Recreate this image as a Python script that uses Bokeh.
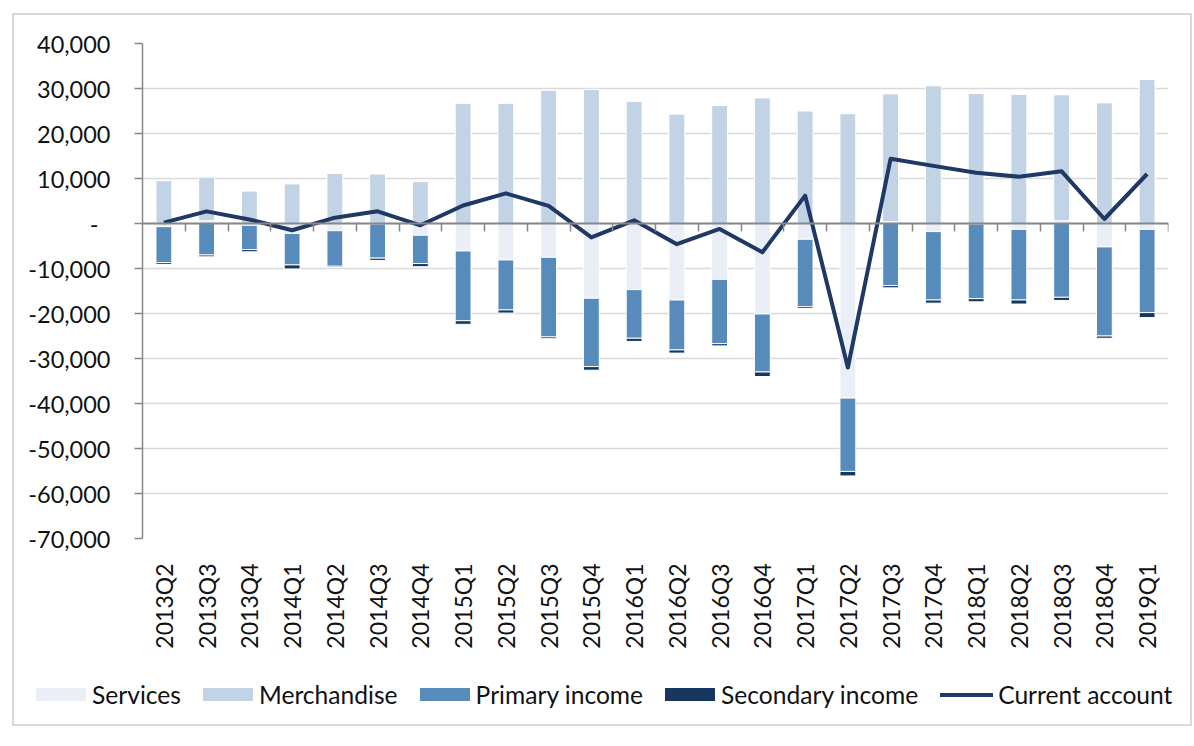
import numpy as np
from bokeh.plotting import figure
from bokeh.layouts import column
from bokeh.models import (ColumnDataSource, Range1d, FixedTicker, LinearAxis, Div,
                          NumeralTickFormatter, CustomJSTickFormatter)
from bokeh.embed import file_html
from bokeh.resources import INLINE

# ---------------- data ----------------
quarters = ["2013Q2", "2013Q3", "2013Q4",
            "2014Q1", "2014Q2", "2014Q3", "2014Q4",
            "2015Q1", "2015Q2", "2015Q3", "2015Q4",
            "2016Q1", "2016Q2", "2016Q3", "2016Q4",
            "2017Q1", "2017Q2", "2017Q3", "2017Q4",
            "2018Q1", "2018Q2", "2018Q3", "2018Q4",
            "2019Q1"]

services = [-700, 600, -400, -2200, -1600, -100, -2600, -6100, -8100, -7500, -16600, -14700,
            -17000, -12400, -20100, -3500, -38800, 400, -1800, -100, -1300, 600, -5200, -1300]
merchandise = [9500, 9700, 7200, 8800, 11100, 11000, 9300, 26700, 26700, 29600, 29800, 27100,
               24300, 26200, 27900, 25000, 24400, 28400, 30600, 28900, 28700, 28000, 26800, 32000]
primary_income = [-8000, -7000, -5400, -7000, -7900, -7600, -6300, -15500, -11100, -17700, -15200, -10800,
                  -11100, -14300, -12900, -15000, -16300, -13800, -15200, -16600, -15700, -16400, -19800, -18500]
secondary_income = [-400, -400, -500, -900, -300, -500, -700, -800, -700, -400, -800, -700,
                    -700, -500, -1000, -400, -1000, -500, -700, -700, -900, -700, -500, -1100]
current_account = [200, 2700, 900, -1500, 1300, 2700, -400, 4000, 6700, 3900, -3100, 700,
                   -4600, -1200, -6400, 6200, -32000, 14400, 12800, 11300, 10400, 11600, 1000, 11000]

y_ticks = [-70000, -60000, -50000, -40000, -30000, -20000, -10000, 0, 10000, 20000, 30000, 40000]

series_names = ["Services", "Merchandise", "Primary income", "Secondary income"]
series_values = [services, merchandise, primary_income, secondary_income]
series_colors = ["#e9eef7", "#c1d3e5", "#568bbb", "#17375e"]
line_name = "Current account"
line_color = "#1f3864"

FONT = "Lato"
TEXT_COLOR = "#111111"
AXIS_GRAY = "#878787"
GRID_GRAY = "#d9d9d9"

# ---------------- main figure ----------------
n = len(quarters)
xs = np.arange(n) + 0.5
W = 1176

p = figure(width=W, height=652,
           x_range=Range1d(0, n), y_range=Range1d(y_ticks[0], y_ticks[-1]),
           output_backend="svg", toolbar_location=None,
           min_border_left=128, min_border_right=22, min_border_top=28, min_border_bottom=129)
p.outline_line_color = None
p.background_fill_color = "white"
p.border_fill_color = "white"

# stacked bars (positives stack up, negatives stack down)
pos = np.zeros(n)
neg = np.zeros(n)
for name, vals, col in zip(series_names, series_values, series_colors):
    v = np.array(vals, dtype=float)
    bottom = np.where(v >= 0, pos, neg + v)
    top = np.where(v >= 0, pos + v, neg)
    pos = np.where(v >= 0, pos + v, pos)
    neg = np.where(v < 0, neg + v, neg)
    src = ColumnDataSource(dict(x=xs, top=top, bottom=bottom))
    p.vbar(x="x", top="top", bottom="bottom", width=0.37, source=src,
           fill_color=col, line_color="white", line_width=1)

lsrc = ColumnDataSource(dict(x=xs, y=current_account))
p.line(x="x", y="y", source=lsrc, line_color=line_color, line_width=4, line_join="round")

# ---------------- axes ----------------
yax = p.yaxis[0]
yax.ticker = FixedTicker(ticks=y_ticks)
yax.formatter = NumeralTickFormatter(format="0,0")
yax.major_label_overrides = {0: "-\u00a0\u00a0"}
yax.major_label_text_font = FONT
yax.major_label_text_font_size = "23.5px"
yax.major_label_text_color = TEXT_COLOR
yax.axis_line_color = AXIS_GRAY
yax.axis_line_width = 1.5
yax.major_tick_line_color = AXIS_GRAY
yax.major_tick_line_width = 1.5
yax.major_tick_out = 8
yax.major_tick_in = 0
yax.minor_tick_line_color = None
yax.major_label_standoff = 24

p.ygrid.ticker = FixedTicker(ticks=y_ticks)
p.ygrid.grid_line_color = GRID_GRAY
p.ygrid.grid_line_width = 1.5
p.xgrid.grid_line_color = None

xax = p.xaxis[0]
xax.ticker = FixedTicker(ticks=list(xs))
xax.formatter = CustomJSTickFormatter(args=dict(labels=quarters),
                                      code="return labels[Math.floor(tick)];")
xax.major_label_orientation = np.pi / 2
xax.major_label_text_font = FONT
xax.major_label_text_font_size = "23px"
xax.major_label_text_color = TEXT_COLOR
xax.axis_line_color = None
xax.major_tick_line_color = None
xax.minor_tick_line_color = None
xax.major_label_standoff = 19

# category axis line on the zero line, ticks between categories
zax = LinearAxis(fixed_location=0, ticker=FixedTicker(ticks=list(range(1, n + 1))),
                 major_label_text_font_size="0px", major_label_text_alpha=0,
                 axis_line_color=AXIS_GRAY, axis_line_width=2,
                 major_tick_line_color=AXIS_GRAY, major_tick_line_width=1.5,
                 major_tick_in=8, major_tick_out=0, minor_tick_line_color=None,
                 major_label_standoff=0)
p.add_layout(zax, "above")

# ---------------- legend strip (HTML) ----------------
parts = []
for name, col in zip(series_names, series_colors):
    parts.append(
        '<span style="display:inline-flex;align-items:center;margin-right:22px;">'
        f'<span style="display:inline-block;width:50px;height:13px;background:{col};margin-right:6px;"></span>'
        f'{name}</span>')
parts.append(
    '<span style="display:inline-flex;align-items:center;">'
    f'<span style="display:inline-block;width:53px;height:4px;background:{line_color};margin-right:5px;"></span>'
    f'{line_name}</span>')
legend_html = (
    f'<div style="display:flex;align-items:center;height:55px;padding-left:22px;'
    f'font-family:{FONT};font-size:24.6px;color:{TEXT_COLOR};white-space:nowrap;">'
    + "".join(parts) + '</div>')
legend_div = Div(text=legend_html, width=W, height=57, margin=(0, 0, 0, 0))

layout = column(p, legend_div, spacing=0,
                styles={"margin": "13px 0px 0px 12px", "border": "2px solid #d9d9d9"})

open("out.html", "w").write(file_html(layout, INLINE))
